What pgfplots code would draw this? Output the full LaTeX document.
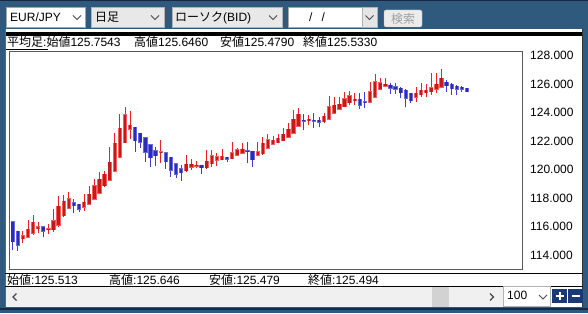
\documentclass[border=0pt]{standalone}
\usepackage{pgfplots}
\pgfplotsset{compat=1.18}
\usepackage{pgfplotstable}
\usepackage{fontspec}
\setmainfont{Liberation Sans}
\newfontfamily\jp{Noto Sans CJK JP}
\definecolor{frameblue}{RGB}{47,90,126}
\definecolor{darknavy}{RGB}{22,42,72}
\definecolor{btnnavy}{RGB}{26,58,118}
\definecolor{scrollgray}{RGB}{240,240,240}
\definecolor{wickR}{RGB}{240,30,30}
\definecolor{bodyR}{RGB}{200,25,25}
\definecolor{edgeR}{RGB}{245,95,95}
\definecolor{wickB}{RGB}{60,60,225}
\definecolor{bodyB}{RGB}{45,45,180}
\definecolor{edgeB}{RGB}{105,105,228}

\pgfplotstableread{
i o h l c
3 115.15 115.69 114.82 115.34
4 115.24 116.46 115.17 115.80
5 115.52 116.81 115.41 116.29
6 115.83 116.34 115.52 115.97
8 115.76 116.18 115.48 115.83
9 115.76 117.21 115.64 116.41
10 116.08 118.14 115.99 117.44
11 116.76 118.19 116.69 117.79
12 117.28 118.45 117.20 117.96
15 117.37 118.26 117.12 117.70
16 117.56 118.87 117.52 118.26
17 117.91 119.34 117.86 118.85
18 118.33 119.81 118.28 119.34
19 118.85 119.90 118.80 119.67
20 119.25 121.57 119.20 120.51
21 119.88 122.57 119.83 121.85
22 120.86 123.91 120.80 122.90
23 121.89 124.40 121.84 123.84
24 122.83 124.09 122.13 123.11
30 121.17 122.08 120.44 121.24
35 119.92 121.05 119.85 120.37
36 120.15 120.73 119.98 120.36
37 120.25 120.60 120.09 120.32
39 120.12 121.35 120.07 120.59
40 120.40 121.40 120.20 120.96
41 120.64 121.17 120.25 120.90
42 120.70 121.43 120.65 120.93
44 120.78 121.92 120.73 121.19
45 121.02 121.51 120.97 121.40
46 121.14 121.89 121.09 121.42
49 121.00 121.93 120.95 121.25
50 121.10 122.28 121.05 121.86
51 121.49 122.50 121.44 122.11
52 121.77 122.33 121.72 122.07
53 121.89 122.52 121.84 122.20
54 122.04 122.95 121.99 122.48
55 122.26 123.25 122.21 122.82
56 122.54 124.18 122.49 123.55
57 123.06 124.30 123.01 123.90
59 123.43 123.81 123.13 123.52
62 123.36 123.95 123.25 123.76
63 123.55 125.17 123.50 124.42
64 123.95 125.07 123.90 124.53
65 124.23 125.12 124.18 124.60
66 124.42 125.47 124.37 124.96
67 124.70 125.54 124.53 125.17
68 124.84 125.35 124.51 124.93
71 124.72 126.17 124.67 125.47
72 125.07 126.71 125.02 126.17
73 125.63 126.41 125.58 126.10
74 125.85 126.41 125.80 126.01
80 125.07 125.82 124.77 125.35
81 125.24 126.10 125.07 125.59
82 125.40 126.01 125.07 125.59
83 125.47 126.76 125.24 125.75
84 125.63 126.81 125.35 125.99
85 125.78 127.04 125.73 126.41
}\redtab

\pgfplotstableread{
i o h l c
1 116.34 116.38 114.35 114.94
2 115.66 115.70 114.31 114.70
7 115.97 116.00 115.24 115.66
13 117.66 117.94 116.93 117.45
14 117.56 117.60 117.05 117.21
25 122.97 123.00 121.24 122.03
26 122.55 122.60 121.52 121.92
27 122.24 122.28 120.56 121.21
28 121.75 121.80 120.21 120.84
29 121.31 121.56 120.25 120.96
31 121.17 121.20 120.07 120.56
32 120.88 120.92 119.50 119.97
33 120.42 120.46 119.39 119.67
34 120.07 120.30 119.22 119.79
38 120.32 120.35 119.71 120.13
43 120.86 120.88 120.55 120.72
47 121.33 121.94 120.45 121.26
48 121.28 121.32 120.21 120.70
58 123.48 123.90 122.78 123.41
60 123.48 123.95 122.94 123.41
61 123.48 123.71 122.97 123.32
69 124.93 125.35 124.25 124.53
70 124.78 125.47 124.30 124.71
75 125.92 126.06 125.31 125.71
76 125.82 126.06 125.31 125.63
77 125.71 125.78 125.00 125.40
78 125.59 125.63 124.37 125.00
79 125.35 125.40 124.65 124.84
86 126.15 126.29 125.47 125.89
87 126.01 126.06 125.24 125.68
88 125.87 125.94 125.24 125.66
89 125.80 125.87 125.47 125.63
90 125.71 125.75 125.43 125.47
}\bluetab

\pgfplotsset{candle/.style={only marks, mark=*, mark size=0pt,
  mark options={draw=none, fill=none},
  error bars/.cd, y dir=plus, y explicit, error mark=none}}

\begin{document}
\begin{tikzpicture}[x=1pt,y=1pt,font=\fontsize{12}{14}\selectfont]
\useasboundingbox (0,0) rectangle (588,313);
% frame
\fill[frameblue] (0,0) rectangle (588,313);
\fill[darknavy] (0,311.5) rectangle (588,313);
\fill[darknavy] (0,3) rectangle (588,5.5);
% panel
\fill[white] (5,6) rectangle (583,283.7);
\fill[scrollgray] (5,6) rectangle (503,27);
\fill[black] (5,277) rectangle (583,281.3);
\draw[black!80] (582.5,6) -- (582.5,283.7);
\draw[black!60] (5.5,6) -- (5.5,283.7);
\draw[black] (5,39.7) -- (583,39.7);
\draw[black] (5,27) -- (583,27);
% toolbar
\filldraw[fill=white, draw=gray!70] (6,286) rectangle (85,306);
\filldraw[fill=gray!18, draw=gray!60] (91,286) rectangle (164,306);
\filldraw[fill=gray!18, draw=gray!60] (172,286) rectangle (282,306);
\filldraw[fill=white, draw=gray!70] (288,286) rectangle (377,306);
\filldraw[fill=gray!20, draw=gray!60] (362,286) rectangle (377,306);
\filldraw[fill=gray!15, draw=gray!55, rounded corners=2pt] (384,286) rectangle (422,303);
\foreach \cx in {77,155,273,369.5}{
  \draw[gray!60!black, line width=0.8pt] (\cx-4,297.5) -- (\cx,293.5) -- (\cx+4,297.5);
}
\node[anchor=base west, inner sep=0] at (10,291.3) {EUR/JPY};
\node[anchor=base west, inner sep=0] at (95,291.3) {\jp 日足};
\node[anchor=base west, inner sep=0] at (175,291.3) {{\jp ローソク}(BID)};
\node[anchor=base west, inner sep=0] at (309,291.3) {/\hspace{9pt}/};
\node[anchor=center, inner sep=0, text=gray!75] at (403,294.5) {\jp 検索};
% header
\node[anchor=base west, inner sep=0] at (7,266.3) {{\jp 平均足}:{\jp 始値}125.7543};
\draw[black] (6,263.7) -- (48,263.7);
\node[anchor=base west, inner sep=0] at (134,266.3) {{\jp 高値}125.6460};
\node[anchor=base west, inner sep=0] at (220,266.3) {{\jp 安値}125.4790};
\node[anchor=base west, inner sep=0] at (303,266.3) {{\jp 終値}125.5330};
% bottom info
\node[anchor=base west, inner sep=0] at (7,28.5) {{\jp 始値}:125.513};
\node[anchor=base west, inner sep=0] at (109,28.5) {{\jp 高値}:125.646};
\node[anchor=base west, inner sep=0] at (209,28.5) {{\jp 安値}:125.479};
\node[anchor=base west, inner sep=0] at (308,28.5) {{\jp 終値}:125.494};
% scrollbar
\draw[gray!55!black, line width=1.2pt] (16.5,19.5) -- (13,16) -- (16.5,12.5);
\draw[gray!55!black, line width=1.2pt] (490,19.5) -- (493.5,16) -- (490,12.5);
\fill[gray!35] (432,6.5) rectangle (449,26);
\filldraw[fill=white, draw=gray!60] (503,6.5) rectangle (550,26.5);
\node[anchor=base west, inner sep=0] at (507,13.7) {100};
\draw[gray!60!black, line width=0.8pt] (539,18) -- (543,14) -- (547,18);
\fill[btnnavy] (552,10.3) rectangle (567,23.7);
\fill[btnnavy] (568,10.3) rectangle (583,23.7);
\draw[white, line width=2pt] (555.5,17) -- (563.5,17);
\draw[white, line width=2pt] (559.5,13) -- (559.5,21);
\draw[white, line width=2pt] (571.5,17) -- (579.5,17);

\begin{axis}[
  at={(9.3pt,44pt)}, anchor=south west, scale only axis,
  width=513pt, height=218pt,
  xmin=0.334, xmax=100.82, ymin=113.02, ymax=128.33,
  xtick=\empty, ytick={114,116,...,128},
  yticklabel pos=right, major tick length=0pt,
  /pgf/number format/assume math mode=true,
  yticklabel style={anchor=west, inner sep=0pt, xshift=7.7pt,
    /pgf/number format/fixed, /pgf/number format/fixed zerofill,
    /pgf/number format/precision=3, /pgf/number format/1000 sep={}},
  tick label style={font=\fontsize{12}{14}\selectfont},
  axis line style={black!65, line width=0.9pt},
  axis background/.style={fill=white},
]
% wicks
\addplot[candle, error bar style={line width=1pt, wickR}]
  table[x=i, y=l, y error expr=\thisrow{h}-\thisrow{l}] {\redtab};
\addplot[candle, error bar style={line width=1pt, wickB}]
  table[x=i, y=l, y error expr=\thisrow{h}-\thisrow{l}] {\bluetab};
% bodies (outer)
\addplot[candle, error bar style={line width=4.3pt, edgeR}]
  table[x=i, y expr=\thisrow{o}-0.035, y error expr=\thisrow{c}-\thisrow{o}+0.07] {\redtab};
\addplot[candle, error bar style={line width=4.3pt, edgeB}]
  table[x=i, y expr=\thisrow{c}-0.035, y error expr=\thisrow{o}-\thisrow{c}+0.07] {\bluetab};
% bodies (inner)
\addplot[candle, error bar style={line width=2.5pt, bodyR}]
  table[x=i, y=o, y error expr=\thisrow{c}-\thisrow{o}] {\redtab};
\addplot[candle, error bar style={line width=2.5pt, bodyB}]
  table[x=i, y=c, y error expr=\thisrow{o}-\thisrow{c}] {\bluetab};
\end{axis}
\end{tikzpicture}
\end{document}
